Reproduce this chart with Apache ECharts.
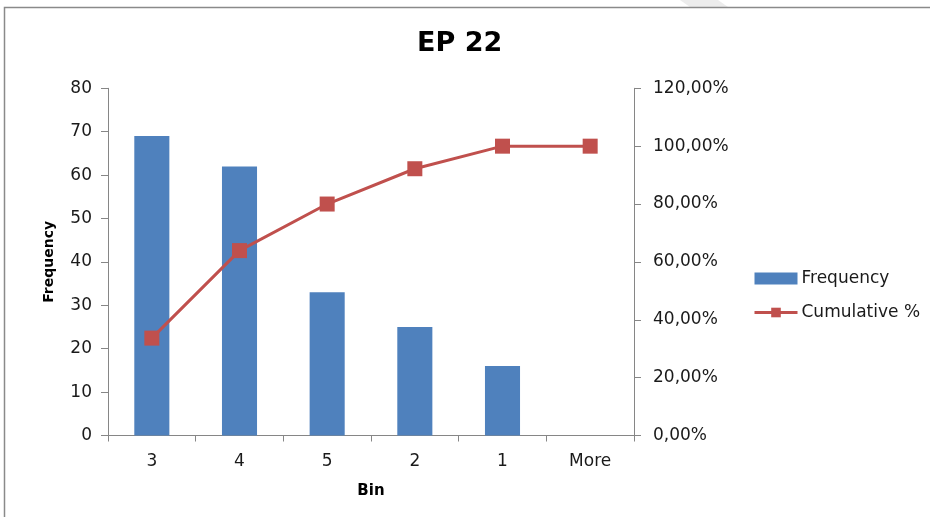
<!DOCTYPE html>
<html>
<head>
<meta charset="utf-8">
<title>EP 22</title>
<script src="https://cdn.jsdelivr.net/npm/echarts@6/dist/echarts.min.js"></script>
<style>
  html, body { margin: 0; padding: 0; background: #fff; }
  #chart { width: 930px; height: 517px; }
</style>
</head>
<body>
<div id="chart"></div>
<script>
// Histogram bins (sorted by frequency) with the cumulative share
const bins = ['3', '4', '5', '2', '1', 'More'];
const frequency = [69, 62, 33, 25, 16, 0];
const cumulativePct = [33.66, 63.90, 80.00, 92.20, 100.00, 100.00];

const leftTicks = { min: 0, max: 80, interval: 10 };
const rightTicks = { min: 0, max: 120, interval: 20 };

const FONT = 'DejaVu Sans';
const TEXT = '#1a1a1a';
const AXIS = '#868686';
const RED = '#C0504D';

const pctLabel = v => v.toFixed(2).replace('.', ',') + '%';

const chart = echarts.init(document.getElementById('chart'), null, { renderer: 'canvas' });

chart.setOption({
  backgroundColor: '#ffffff',
  animation: false,
  textStyle: { fontFamily: FONT },
  title: {
    text: 'EP 22',
    top: 30,
    left: 417,
    padding: 0,
    textStyle: { fontFamily: FONT, fontWeight: 'bold', fontSize: 27, color: '#000' }
  },
  graphic: [
    {
      type: 'polygon',
      silent: true,
      shape: { points: [[680, 0], [718, 0], [728, 7], [690, 7]] },
      style: { fill: '#ececec' }
    },
    {
      type: 'rect',
      silent: true,
      shape: { x: 4.5, y: 7.5, width: 1000, height: 1000 },
      style: { fill: 'none', stroke: '#8a8a8a', lineWidth: 1.5 }
    }
  ],
  legend: {
    orient: 'vertical',
    left: 753,
    top: 270,
    padding: 0,
    itemWidth: 43,
    itemHeight: 12,
    itemGap: 17,
    textStyle: { fontFamily: FONT, fontSize: 17, color: TEXT, padding: [0, 0, 0, -1] },
    data: [
      { name: 'Frequency', icon: 'rect' },
      { name: 'Cumulative %', lineStyle: { width: 3, color: RED }, itemStyle: { color: RED } }
    ]
  },
  grid: { left: 108, right: 296, top: 88.3, bottom: 81.5, containLabel: false },
  xAxis: {
    type: 'category',
    data: bins,
    boundaryGap: true,
    name: 'Bin',
    nameLocation: 'middle',
    nameGap: 48,
    nameTextStyle: { fontFamily: FONT, fontWeight: 'bold', fontSize: 15, color: '#000' },
    axisLine: { lineStyle: { color: AXIS, width: 1 } },
    axisTick: { show: true, length: 6, lineStyle: { color: AXIS } },
    axisLabel: { fontFamily: FONT, fontSize: 17, color: TEXT, margin: 18 }
  },
  yAxis: [
    {
      type: 'value',
      min: leftTicks.min,
      max: leftTicks.max,
      interval: leftTicks.interval,
      name: 'Frequency',
      nameLocation: 'middle',
      nameGap: 52,
      nameRotate: 90,
      nameTextStyle: { fontFamily: FONT, fontWeight: 'bold', fontSize: 14, color: '#000' },
      axisLine: { show: true, lineStyle: { color: AXIS, width: 1 } },
      axisTick: { show: true, length: 7, lineStyle: { color: AXIS } },
      axisLabel: { fontFamily: FONT, fontSize: 17, color: TEXT, margin: 16 },
      splitLine: { show: false }
    },
    {
      type: 'value',
      position: 'right',
      min: rightTicks.min,
      max: rightTicks.max,
      interval: rightTicks.interval,
      axisLine: { show: true, lineStyle: { color: AXIS, width: 1 } },
      axisTick: { show: true, length: 7, lineStyle: { color: AXIS } },
      axisLabel: { fontFamily: FONT, fontSize: 17, color: TEXT, margin: 19, formatter: pctLabel },
      splitLine: { show: false }
    }
  ],
  series: [
    {
      name: 'Frequency',
      type: 'bar',
      data: frequency,
      barCategoryGap: '60%',
      itemStyle: { color: '#4F81BD' },
      z: 2
    },
    {
      name: 'Cumulative %',
      type: 'line',
      yAxisIndex: 1,
      data: cumulativePct,
      symbol: 'rect',
      symbolSize: 15,
      lineStyle: { color: RED, width: 3 },
      itemStyle: { color: RED },
      z: 3
    }
  ]
});
</script>
</body>
</html>
